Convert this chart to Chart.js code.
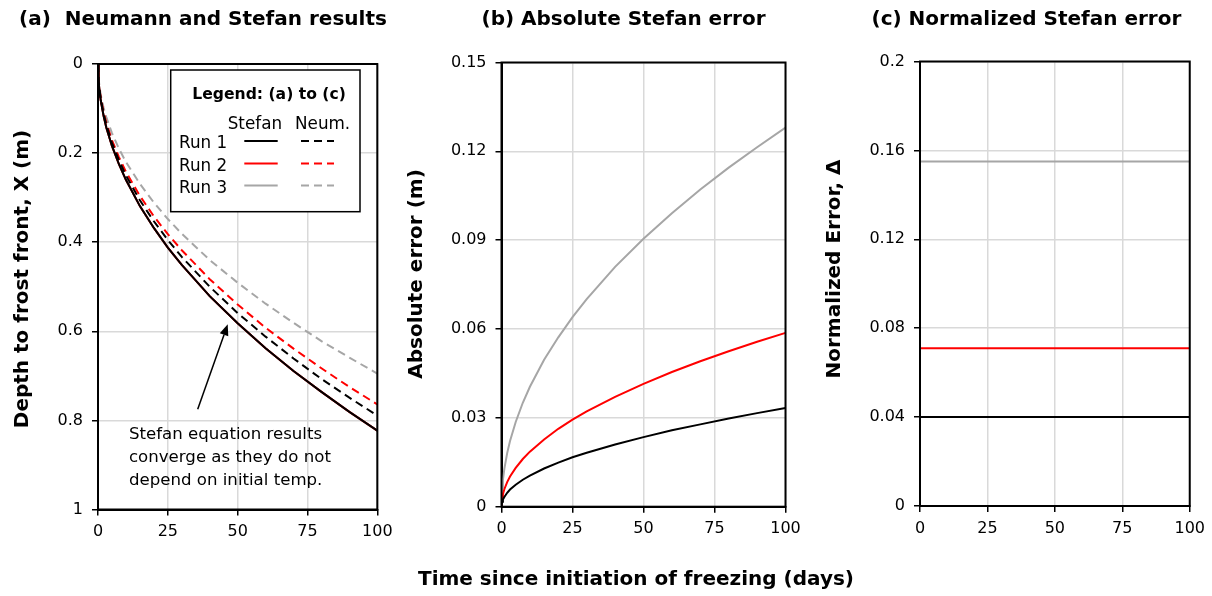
<!DOCTYPE html>
<html><head><meta charset="utf-8">
<script src="https://cdn.jsdelivr.net/npm/chart.js@4.4.1/dist/chart.umd.min.js"></script>
<style>
html,body{margin:0;padding:0;background:#fff;}
#wrap{position:relative;width:1212px;height:596px;overflow:hidden;background:#fff;}
#wrap canvas{position:absolute;left:0;top:0;}
</style></head><body>
<div id="wrap">
<canvas id="ca" width="1212" height="596"></canvas>
<canvas id="cb" width="1212" height="596"></canvas>
<canvas id="cc" width="1212" height="596"></canvas>
</div>
<script>
// ---------------- DATA ----------------
const days = [0,0.25,0.5,1,2,3,5,7.5,10,15,20,25,30,40,50,60,70,80,90,100];
// (a) depth to frost front, X (m)
const stefanRun1 = [0,0.041,0.058,0.082,0.116,0.143,0.184,0.225,0.260,0.319,0.368,0.412,0.451,0.521,0.582,0.638,0.689,0.736,0.781,0.823];
const stefanRun2 = [0,0.041,0.058,0.082,0.116,0.143,0.184,0.225,0.260,0.319,0.368,0.412,0.451,0.521,0.582,0.638,0.689,0.736,0.781,0.823];
const stefanRun3 = [0,0.041,0.058,0.082,0.116,0.143,0.184,0.225,0.260,0.319,0.368,0.412,0.451,0.521,0.582,0.638,0.689,0.736,0.781,0.823];
const neumRun1 = [0,0.039,0.056,0.079,0.112,0.137,0.177,0.216,0.250,0.306,0.353,0.395,0.433,0.500,0.559,0.612,0.661,0.707,0.749,0.789];
const neumRun2 = [0,0.038,0.054,0.076,0.108,0.132,0.171,0.209,0.242,0.296,0.342,0.382,0.418,0.483,0.540,0.592,0.639,0.683,0.725,0.764];
const neumRun3 = [0,0.035,0.049,0.070,0.098,0.120,0.155,0.190,0.220,0.269,0.311,0.348,0.381,0.440,0.491,0.538,0.581,0.622,0.659,0.695];
// (b) absolute Stefan error (m)
const absErrRun1 = [0,0.0017,0.0024,0.0033,0.0047,0.0058,0.0074,0.0091,0.0105,0.0129,0.0149,0.0167,0.0182,0.0210,0.0235,0.0258,0.0278,0.0298,0.0316,0.0333];
const absErrRun2 = [0,0.0029,0.0042,0.0059,0.0083,0.0102,0.0131,0.0161,0.0186,0.0227,0.0263,0.0294,0.0322,0.0371,0.0415,0.0455,0.0491,0.0525,0.0557,0.0587];
const absErrRun3 = [0,0.0064,0.0091,0.0128,0.0181,0.0222,0.0286,0.0351,0.0405,0.0496,0.0572,0.0640,0.0701,0.0810,0.0905,0.0991,0.1071,0.1145,0.1214,0.1280];
// (c) normalized Stefan error
const normDays = [0,100];
const normErrRun1 = [0.040,0.040];
const normErrRun2 = [0.071,0.071];
const normErrRun3 = [0.155,0.155];
// tick settings
const xTicks = {min:0, max:100, step:25};
const yTicksA = {min:0, max:1, step:0.2};
const yTicksB = {min:0, max:0.15, step:0.03};
const yTicksC = {min:0, max:0.2, step:0.04};
const runNames = ['Run 1','Run 2','Run 3'];

// ---------------- STYLE / LAYOUT ----------------
const W = 1212, H = 596, YW = 60, XH = 40;
const FONT = "'DejaVu Sans', sans-serif";
const colors = ['#000000','#ff0000','#a6a6a6'];
const dash = [8,5];
const areas = {
  a:{l:98, r:377.3, t:64, b:509.5},
  b:{l:501.5, r:785.5, t:62.5, b:506.7},
  c:{l:920, r:1190, t:61.5, b:506}
};

function pts(xs, ys){ return xs.map((x,i)=>({x:x, y:ys[i]})); }
function ds(label, xs, ys, color, dashed){
  return {label, data: pts(xs, ys), borderColor: color, backgroundColor: color,
    borderWidth: 2, borderDash: dashed ? dash : [], pointRadius: 0, tension: 0, fill: false};
}
const fmt = (v)=> String(Number(Number(v).toFixed(4)));
function scaleX(){
  return {type:'linear', min:xTicks.min, max:xTicks.max,
    ticks:{stepSize:xTicks.step, padding:7, color:'#000', font:{family:FONT, size:16}, callback: fmt},
    grid:{color:'#d9d9d9', lineWidth:1.5, tickLength:6, tickColor:'#000', tickWidth:1.5},
    border:{display:true, color:'#000', width:2},
    afterFit:(s)=>{ s.height = XH; }};
}
function scaleY(t, reverse){
  return {type:'linear', min:t.min, max:t.max, reverse: !!reverse,
    ticks:{stepSize:t.step, padding:9, color:'#000', font:{family:FONT, size:16}, callback: fmt},
    grid:{color:'#d9d9d9', lineWidth:1.5, tickLength:6, tickColor:'#000', tickWidth:1.5},
    border:{display:true, color:'#000', width:2},
    afterFit:(s)=>{ s.width = YW; }};
}
function padFor(a){
  return {left: a.l - YW, right: W - a.r, top: a.t, bottom: H - a.b - XH};
}
function textPlugin(id, items, extra){
  return {id, afterDatasetsDraw(chart){
    const ctx = chart.ctx, ca = chart.chartArea;
    ctx.save();
    ctx.strokeStyle = '#000'; ctx.lineWidth = 2; ctx.setLineDash([]);
    ctx.strokeRect(ca.left, ca.top, ca.right - ca.left, ca.bottom - ca.top);
    ctx.restore();
    if (extra) extra(chart);
    items.forEach(it=>{
      ctx.save();
      ctx.fillStyle = '#000';
      ctx.font = it.font;
      ctx.textAlign = it.align || 'left';
      ctx.textBaseline = it.baseline || 'alphabetic';
      ctx.translate(it.x, it.y);
      if (it.rot) ctx.rotate(it.rot);
      ctx.fillText(it.text, 0, 0);
      ctx.restore();
    });
  }};
}
const boldBig = "bold 20px " + FONT;
const ROT = -Math.PI/2;

function baseOptions(a, yt, reverse){
  return {responsive:false, animation:false, devicePixelRatio:1,
    layout:{padding: padFor(a)},
    plugins:{legend:{display:false}, tooltip:{enabled:false}, title:{display:false}},
    scales:{x: scaleX(), y: scaleY(yt, reverse)}};
}

// ---- panel (a) ----
function drawLegendAndNote(chart){
  const ctx = chart.ctx;
  ctx.save();
  // arrow
  ctx.strokeStyle = '#000'; ctx.fillStyle = '#000'; ctx.lineWidth = 1.5; ctx.setLineDash([]);
  const x0 = 197.7, y0 = 409.3, x1 = 227.7, y1 = 324.3;
  const ang = Math.atan2(y1 - y0, x1 - x0), hl = 11, hw = 4.5;
  const bx = x1 - hl*Math.cos(ang), by = y1 - hl*Math.sin(ang);
  ctx.beginPath(); ctx.moveTo(x0, y0); ctx.lineTo(bx, by); ctx.stroke();
  ctx.beginPath(); ctx.moveTo(x1, y1);
  ctx.lineTo(bx + hw*Math.sin(ang), by - hw*Math.cos(ang));
  ctx.lineTo(bx - hw*Math.sin(ang), by + hw*Math.cos(ang));
  ctx.closePath(); ctx.fill();
  // legend box
  ctx.fillStyle = '#fff';
  ctx.fillRect(170.7, 70, 189.3, 141.7);
  ctx.lineWidth = 1.5; ctx.strokeStyle = '#000';
  ctx.strokeRect(170.7, 70, 189.3, 141.7);
  ctx.fillStyle = '#000';
  ctx.font = "bold 15.6px " + FONT; ctx.textBaseline = 'alphabetic'; ctx.textAlign = 'left';
  ctx.fillText('Legend: (a) to (c)', 192.3, 98.5);
  ctx.font = "16.8px " + FONT;
  ctx.fillText('Stefan', 227.7, 128.5);
  ctx.fillText('Neum.', 295, 128.5);
  const rowY = [141, 163.5, 185.5];
  runNames.forEach((n,i)=>{
    ctx.fillStyle = '#000';
    ctx.fillText(n, 179, rowY[i] + 7);
    ctx.strokeStyle = colors[i]; ctx.lineWidth = 2;
    ctx.setLineDash([]);
    ctx.beginPath(); ctx.moveTo(244.3, rowY[i]); ctx.lineTo(277.7, rowY[i]); ctx.stroke();
    ctx.setLineDash(dash);
    ctx.beginPath(); ctx.moveTo(301, rowY[i]); ctx.lineTo(334, rowY[i]); ctx.stroke();
  });
  ctx.restore();
}
const noteFont = "16.6px " + FONT;
new Chart(document.getElementById('ca'), {
  type:'line',
  data:{datasets:[
    ds('Run 1 Stefan', days, stefanRun1, colors[0], false),
    ds('Run 1 Neum.', days, neumRun1, colors[0], true),
    ds('Run 2 Neum.', days, neumRun2, colors[1], true),
    ds('Run 3 Neum.', days, neumRun3, colors[2], true),
    ds('Run 2 Stefan', days, stefanRun2, colors[1], false),
    ds('Run 3 Stefan', days, stefanRun3, colors[2], false)
  ]},
  options: baseOptions(areas.a, yTicksA, true),
  plugins:[textPlugin('txtA', [
    {text:'(a)  Neumann and Stefan results', x:19, y:25, font:boldBig},
    {text:'Depth to frost front, X (m)', x:23, y:279, font:boldBig, align:'center', baseline:'middle', rot:ROT},
    {text:'Stefan equation results', x:129, y:438.5, font:noteFont},
    {text:'converge as they do not', x:129, y:461.5, font:noteFont},
    {text:'depend on initial temp.', x:129, y:484.5, font:noteFont},
    {text:'Time since initiation of freezing (days)', x:418, y:585, font:boldBig}
  ], drawLegendAndNote)]
});

// ---- panel (b) ----
new Chart(document.getElementById('cb'), {
  type:'line',
  data:{datasets:[
    ds('Run 1', days, absErrRun1, colors[0], false),
    ds('Run 2', days, absErrRun2, colors[1], false),
    ds('Run 3', days, absErrRun3, colors[2], false)
  ]},
  options: baseOptions(areas.b, yTicksB, false),
  plugins:[textPlugin('txtB', [
    {text:'(b) Absolute Stefan error', x:481.5, y:25, font:boldBig},
    {text:'Absolute error (m)', x:417, y:274, font:boldBig, align:'center', baseline:'middle', rot:ROT}
  ])]
});

// ---- panel (c) ----
new Chart(document.getElementById('cc'), {
  type:'line',
  data:{datasets:[
    ds('Run 1', normDays, normErrRun1, colors[0], false),
    ds('Run 2', normDays, normErrRun2, colors[1], false),
    ds('Run 3', normDays, normErrRun3, colors[2], false)
  ]},
  options: baseOptions(areas.c, yTicksC, false),
  plugins:[textPlugin('txtC', [
    {text:'(c) Normalized Stefan error', x:871.5, y:25, font:boldBig},
    {text:'Normalized Error, Δ', x:835, y:269, font:boldBig, align:'center', baseline:'middle', rot:ROT}
  ])]
});
</script>
</body></html>
